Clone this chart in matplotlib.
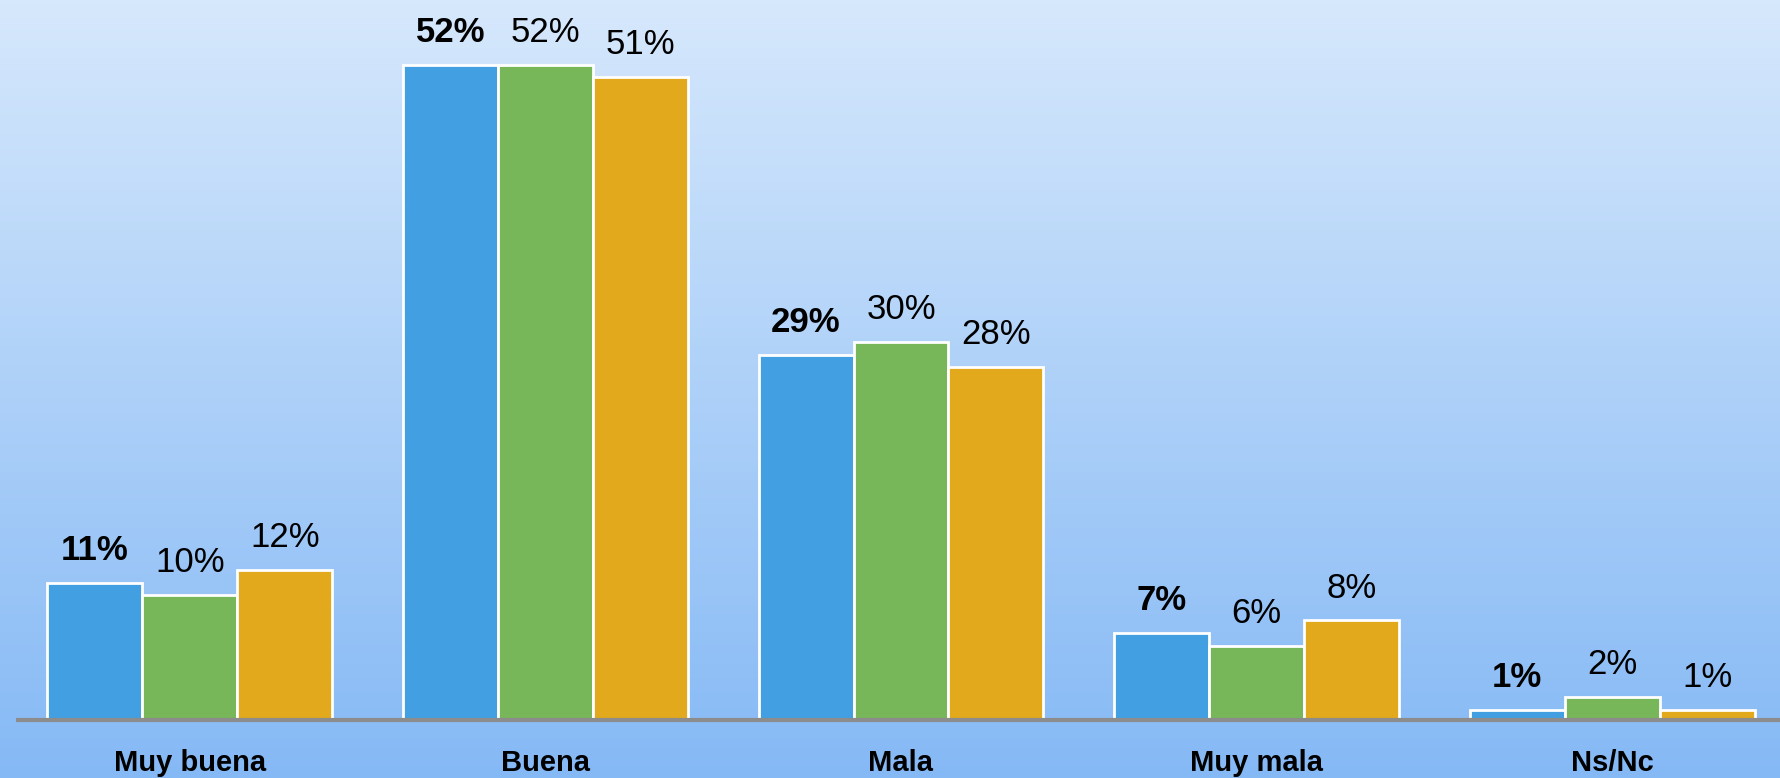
import numpy as np
import matplotlib
matplotlib.use("Agg")
import matplotlib.pyplot as plt
from matplotlib import font_manager

categories = ["Muy buena", "Buena", "Mala", "Muy mala", "Ns/Nc"]
serie_1 = [10.9, 52.0, 29.0, 6.9, 0.8]
serie_2 = [9.9, 52.0, 30.0, 5.9, 1.8]
serie_3 = [11.9, 51.0, 28.0, 7.9, 0.8]
series = [serie_1, serie_2, serie_3]
colors = ["#419FE2", "#78B65A", "#E2A91C"]
bold_label = [True, False, False]

fams = {f.name for f in font_manager.fontManager.ttflist}
family = ["Liberation Sans Narrow", "DejaVu Sans"] if "Liberation Sans Narrow" in fams else ["Liberation Sans", "DejaVu Sans"]
plt.rcParams["font.family"] = family

W, H, DPI = 1781, 778, 100
fig = plt.figure(figsize=(W / DPI, H / DPI), dpi=DPI)

# gradient background
bg = fig.add_axes([0, 0, 1, 1], zorder=0)
top = np.array([214, 232, 252]) / 255
bot = np.array([133, 185, 245]) / 255
t = np.linspace(0, 1, 256)[:, None]
grad = (top[None, :] * (1 - t) + bot[None, :] * t)[:, None, :]
bg.imshow(grad, aspect="auto", extent=[0, 1, 0, 1], origin="upper")
bg.set_axis_off()

ax_left = 12 / W
ax_bottom = (H - 720) / H
ax = fig.add_axes([ax_left, ax_bottom, 1778 / W, 720 / H], zorder=1)
ax.patch.set_alpha(0)

x = np.arange(len(categories))
bw = 0.267
offsets = [-bw, 0, bw]
for s, vals in enumerate(series):
    ax.bar(x + offsets[s], vals, width=bw, color=colors[s],
           edgecolor="white", linewidth=2, zorder=2)
    for xi, v in zip(x + offsets[s], vals):
        ax.annotate(f"{round(v)}%", (xi, v), xytext=(0, 16.5), textcoords="offset points",
                    ha="center", va="baseline", fontsize=25,
                    fontweight="bold" if bold_label[s] else "normal", color="black")

ax.set_xlim(-0.5, len(categories) - 0.5)
ax.set_ylim(0, 720 / 12.6)
ax.plot([0.002, 1], [0, 0], transform=ax.transAxes, color="#8C8C8C",
        linewidth=3, zorder=3, clip_on=False, solid_capstyle="butt")
for sp in ax.spines.values():
    sp.set_visible(False)
ax.set_yticks([])
ax.set_xticks(x)
ax.set_xticklabels(categories, fontsize=21, fontweight="bold")
ax.tick_params(axis="x", length=0, pad=21)

fig.savefig("out.png", dpi=DPI)
